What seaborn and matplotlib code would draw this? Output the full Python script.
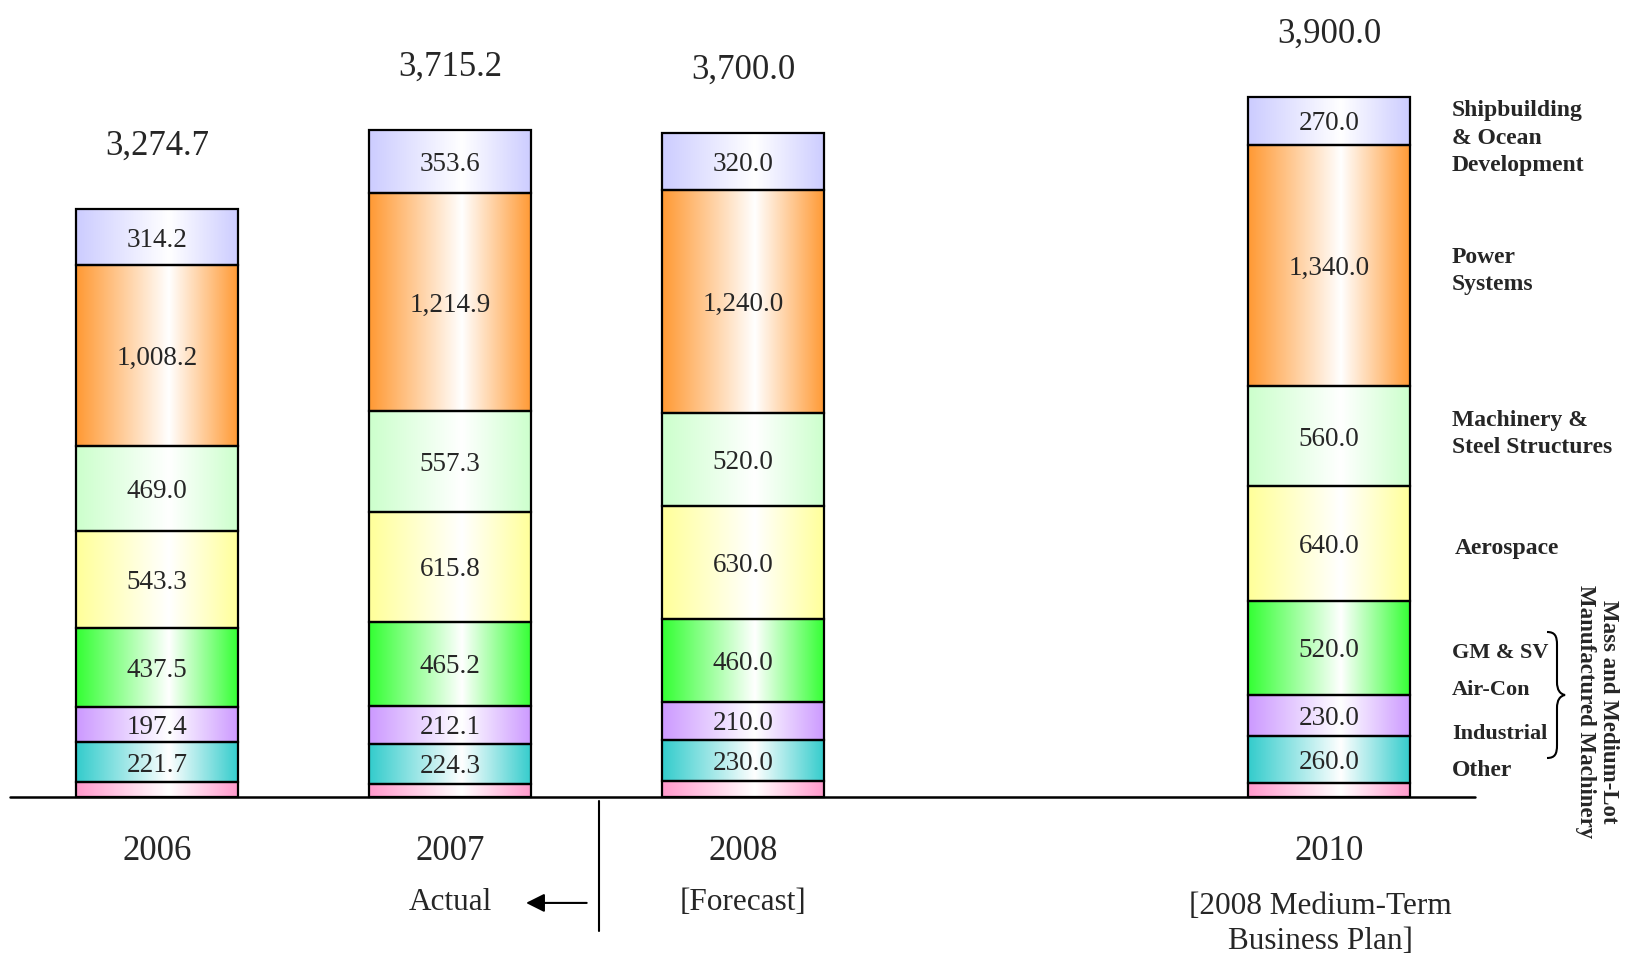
import seaborn as sns
import matplotlib.pyplot as plt
import matplotlib.colors as mcolors
from matplotlib.path import Path
from matplotlib.patches import PathPatch
import numpy as np

# ---- data ----
years = ["2006", "2007", "2008", "2010"]
positions = [0, 1, 2, 4]
totals = [3274.7, 3715.2, 3700.0, 3900.0]

# segments, bottom to top
other = [83.4, 72.0, 90.0, 80.0]
industrial = [221.7, 224.3, 230.0, 260.0]
aircon = [197.4, 212.1, 210.0, 230.0]
gm_sv = [437.5, 465.2, 460.0, 520.0]
aerospace = [543.3, 615.8, 630.0, 640.0]
machinery = [469.0, 557.3, 520.0, 560.0]
power = [1008.2, 1214.9, 1240.0, 1340.0]
shipbuilding = [314.2, 353.6, 320.0, 270.0]

segments = [other, industrial, aircon, gm_sv, aerospace, machinery, power, shipbuilding]
seg_colors = ["#FF99CC", "#33CCCC", "#CC99FF", "#33FF33",
              "#FFFF99", "#CCFFCC", "#FF9933", "#CCCCFF"]
seg_show_label = [False, True, True, True, True, True, True, True]

period_labels = ["Actual", "[Forecast]", "[2008 Medium-Term\nBusiness Plan]"]
period_x = [1.0, 2.0, 3.97]


def gradient(color, n=256, peak=0.57):
    # horizontal shading: full colour at the edges, white near the middle
    rgb = np.array(mcolors.to_rgb(color))
    u = np.linspace(0, 1, n)
    t = np.where(u < peak, (peak - u) / peak, (u - peak) / (1 - peak))
    img = 1 - (1 - rgb)[None, :] * t[:, None]
    return img[None, :, :]


sns.set_theme(style="white")
plt.rcParams['font.family'] = ['Liberation Serif', 'DejaVu Serif']

fig = plt.figure(figsize=(16.31, 9.55), dpi=100)
ax = fig.add_axes([0, 0, 1, 1])

bottom = np.zeros(len(years))
for vals, col, show in zip(segments, seg_colors, seg_show_label):
    n_before = len(ax.patches)
    sns.barplot(x=positions, y=vals, native_scale=True, orient="x", width=0.553,
                color=col, saturation=1, bottom=bottom.copy(), facecolor="none",
                edgecolor="black", linewidth=1.6, errorbar=None, ax=ax, zorder=3)
    for bar in ax.patches[n_before:]:
        x0, y0 = bar.get_x(), bar.get_y()
        w, h = bar.get_width(), bar.get_height()
        ax.imshow(gradient(col), extent=(x0, x0 + w, y0, y0 + h),
                  aspect="auto", interpolation="bilinear", zorder=2)
    if show:
        for p, b, v in zip(positions, bottom, vals):
            ax.text(p, b + v / 2, f"{v:,.1f}", ha="center", va="center_baseline",
                    fontsize=19.5, zorder=5)
    bottom += np.array(vals)

# totals above the bars
for p, t in zip(positions, totals):
    ax.text(p, t + 370, f"{t:,.1f}", ha="center", va="center_baseline", fontsize=25)

# baseline
ax.plot([-0.502, 4.498], [0, 0], color="black", lw=1.8, zorder=6)

# year labels and period captions
for p, y in zip(positions, years):
    ax.text(p, -284, y, ha="center", va="center_baseline", fontsize=25)
for x, lab in zip(period_x, period_labels):
    ax.text(x, -707 if "\n" in lab else -590, lab, ha="center", va="center",
            fontsize=22.5, linespacing=1.3)

# actual / forecast separator and arrow
ax.plot([1.509, 1.509], [-22, -746], color="black", lw=1.5)
ax.annotate("", xy=(1.25, -590), xytext=(1.476, -590),
            arrowprops=dict(arrowstyle="-|>", color="black", lw=1.5,
                            mutation_scale=28))

# segment names on the right
bold = dict(fontweight="bold", ha="left", va="center")
ax.text(4.42, 3669, "Shipbuilding\n& Ocean\nDevelopment", fontsize=17,
        linespacing=1.4, **bold)
ax.text(4.42, 2929, "Power\nSystems", fontsize=17, linespacing=1.4, **bold)
ax.text(4.42, 2021, "Machinery &\nSteel Structures", fontsize=17,
        linespacing=1.4, **bold)
ax.text(4.43, 1381, "Aerospace", fontsize=17, **bold)
ax.text(4.42, 802, "GM & SV", fontsize=16, **bold)
ax.text(4.42, 596, "Air-Con", fontsize=16, **bold)
ax.text(4.42, 351, "Industrial", fontsize=16, **bold)
ax.text(4.42, 150, "Other", fontsize=17, **bold)

# brace grouping the mass-produced machinery lines
W, H = 1631.0, 955.0
pts = [(1547, 632), (1555, 632), (1557, 636), (1557, 645),
       (1557, 682), (1557, 690), (1560, 694), (1565, 695),
       (1560, 696), (1557, 700), (1557, 708),
       (1557, 745), (1557, 754), (1555, 758), (1547, 758)]
codes = [Path.MOVETO, Path.CURVE4, Path.CURVE4, Path.CURVE4,
         Path.LINETO, Path.CURVE4, Path.CURVE4, Path.CURVE4,
         Path.CURVE4, Path.CURVE4, Path.CURVE4,
         Path.LINETO, Path.CURVE4, Path.CURVE4, Path.CURVE4]
brace = Path([(x / W, 1 - y / H) for x, y in pts], codes)
fig.patches.append(PathPatch(brace, transform=fig.transFigure,
                             facecolor="none", edgecolor="black", lw=1.5))
ax.text(4.915, 473, "Mass and Medium-Lot\nManufactured Machinery", rotation=-90,
        fontsize=16.5, fontweight="bold", ha="center", va="center",
        linespacing=1.15)

ax.set_xlim(-0.536, 5.031)
ax.set_ylim(-880, 4438)
ax.set_axis_off()

fig.savefig("out.png", dpi=100)
